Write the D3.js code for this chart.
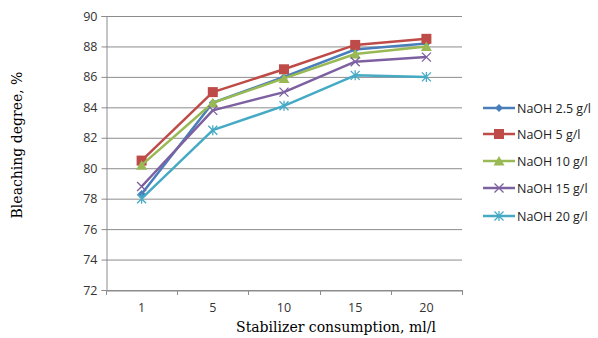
<!DOCTYPE html>
<html><head><meta charset="utf-8">
<script src="https://cdn.jsdelivr.net/npm/d3@7"></script>
<style>body{margin:0;background:#fff}</style>
</head><body>
<svg id="c" width="598" height="338"></svg>
<script>
const categories = ["1","5","10","15","20"];
const seriesNames = ["NaOH 2.5 g/l","NaOH 5 g/l","NaOH 10 g/l","NaOH 15 g/l","NaOH 20 g/l"];
const naoh25 = [78.3, 84.3, 86.0, 87.8, 88.2];
const naoh5  = [80.5, 85.0, 86.5, 88.1, 88.5];
const naoh10 = [80.2, 84.3, 85.9, 87.5, 88.0];
const naoh15 = [78.8, 83.8, 85.0, 87.0, 87.3];
const naoh20 = [78.0, 82.5, 84.1, 86.1, 86.0];
const yTicks = [72,74,76,78,80,82,84,86,88,90];
const colors = ["#4A7EBB","#BE4B48","#98B954","#7D60A0","#46AAC5"];
const markers = ["diamond","square","triangle","x","star"];
const allSeries = [naoh25,naoh5,naoh10,naoh15,naoh20];

const svg = d3.select("#c");
const L=106, R=462, T=16, B=290;
const x = d3.scaleBand().domain(categories).range([L,R]);
const y = d3.scaleLinear().domain([72,90]).range([B,T]);
const tickFont = "'Open Sans', sans-serif";

svg.append("g").selectAll("line").data(yTicks).join("line")
  .attr("x1",L).attr("x2",R).attr("y1",d=>y(d)+0.5).attr("y2",d=>y(d)+0.5)
  .attr("stroke","#8c8c8c").attr("stroke-width",1);

const ya = svg.append("g").attr("transform",`translate(${L+0.5},0)`)
  .call(d3.axisLeft(y).tickValues(yTicks).tickSize(5).tickPadding(4).tickFormat(d3.format("d")));
ya.select(".domain").attr("stroke","#8c8c8c");
ya.selectAll(".tick line").attr("stroke","#8c8c8c");
ya.selectAll("text").attr("font-family",tickFont).attr("font-size",12.5).attr("fill","#333");

const xa = svg.append("g").attr("transform",`translate(0,${B+0.5})`)
  .call(d3.axisBottom(x).tickSize(0).tickPadding(13));
xa.select(".domain").attr("stroke","#8c8c8c");
xa.selectAll("text").attr("font-family",tickFont).attr("font-size",12.5).attr("fill","#333");
const bounds = categories.map(c=>x(c)).concat([R]);
svg.append("g").selectAll("line").data(bounds).join("line")
  .attr("x1",d=>Math.round(d)+0.5).attr("x2",d=>Math.round(d)+0.5)
  .attr("y1",B).attr("y2",B+5).attr("stroke","#8c8c8c");

svg.append("text").attr("x",336).attr("y",332).attr("text-anchor","middle")
  .attr("font-family","'DejaVu Serif', serif").attr("font-size",14).attr("fill","#000")
  .text("Stabilizer consumption, ml/l");
svg.append("text").attr("transform","translate(22,145) rotate(-90)").attr("text-anchor","middle")
  .attr("font-family","'DejaVu Serif', serif").attr("font-size",14).attr("fill","#000")
  .text("Bleaching degree, %");

function drawMarker(g, type, cx, cy, color){
  if(type==="diamond"){
    g.append("path").attr("d",`M${cx},${cy-4}L${cx+4},${cy}L${cx},${cy+4}L${cx-4},${cy}Z`).attr("fill",color);
  } else if(type==="square"){
    g.append("rect").attr("x",cx-5).attr("y",cy-5).attr("width",10).attr("height",10).attr("fill",color);
  } else if(type==="triangle"){
    g.append("path").attr("d",`M${cx},${cy-5}L${cx+5.5},${cy+4.5}L${cx-5.5},${cy+4.5}Z`).attr("fill",color);
  } else if(type==="x"){
    g.append("path").attr("d",`M${cx-4.5},${cy-4.5}L${cx+4.5},${cy+4.5}M${cx-4.5},${cy+4.5}L${cx+4.5},${cy-4.5}`).attr("stroke",color).attr("stroke-width",1.3).attr("fill","none");
  } else if(type==="star"){
    g.append("path").attr("d",`M${cx-4.5},${cy-4.5}L${cx+4.5},${cy+4.5}M${cx-4.5},${cy+4.5}L${cx+4.5},${cy-4.5}M${cx},${cy-5}L${cx},${cy+5}`).attr("stroke",color).attr("stroke-width",1.3).attr("fill","none");
  }
}

const line = d3.line().x((d,i)=>x(categories[i])+x.bandwidth()/2).y(d=>y(d));
allSeries.forEach((s,k)=>{
  const g = svg.append("g");
  g.append("path").attr("d",line(s)).attr("fill","none").attr("stroke",colors[k]).attr("stroke-width",2.5).attr("stroke-linejoin","round");
  s.forEach((v,i)=>drawMarker(g,markers[k],x(categories[i])+x.bandwidth()/2,y(v),colors[k]));
});

const legY = [108,134,161,188,216];
seriesNames.forEach((n,k)=>{
  const g = svg.append("g");
  g.append("line").attr("x1",483).attr("x2",515).attr("y1",legY[k]).attr("y2",legY[k]).attr("stroke",colors[k]).attr("stroke-width",2.5);
  drawMarker(g,markers[k],499,legY[k],colors[k]);
  g.append("text").attr("x",517).attr("y",legY[k]+4.5).attr("font-family",tickFont).attr("font-size",12.5).attr("fill","#222").text(n);
});
</script>
</body></html>
